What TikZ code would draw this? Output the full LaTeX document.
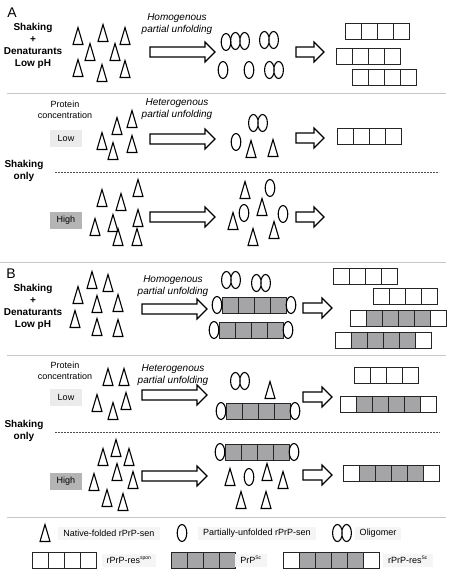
\documentclass[tikz,border=0pt]{standalone}
\usepackage{fontspec}
\setmainfont{Liberation Sans}
\usepackage{tikz}

\definecolor{fibgrey}{HTML}{A5A5A8}
\definecolor{rulegrey}{HTML}{C8C8C8}
\definecolor{lowgrey}{HTML}{EBEBEB}
\definecolor{highgrey}{HTML}{B4B4B4}
\definecolor{keygrey}{HTML}{F5F5F5}

\tikzset{
    outline/.style={draw=black, line width=1.1pt},
    cell/.style={draw=black!85, line width=0.9pt},
    sep/.style={draw=rulegrey, line width=0.8pt},
    dotsep/.style={draw=black!70, line width=0.7pt, dash pattern=on 1.6pt off 1.4pt},
    panel/.style={font=\fontsize{14}{14}\selectfont},
    cond/.style={font=\bfseries, align=center, inner sep=0pt},
    plain/.style={align=center, inner sep=0pt},
    proc/.style={font=\itshape, align=center, inner sep=0pt},
    conc/.style={minimum width=32pt, minimum height=17pt, inner sep=0pt},
    key/.style={fill=keygrey, minimum height=13pt, inner xsep=5pt, inner ysep=0pt},
    tri/.pic={\draw[outline] (-5,8.5) -- (0,-8.5) -- (5,8.5) -- cycle;},
    oval/.pic={\draw[outline] (0,0) ellipse [x radius=4.8, y radius=8.5];},
    dimer/.pic={\draw[outline] (-4.6,0) ellipse [x radius=4.8, y radius=8.5]
                               (4.6,0) ellipse [x radius=4.8, y radius=8.5];}
}

% row of 16x16 cells, top left corner at (#1,#2)
\newcommand{\fibril}[3]{%
    \foreach \f [count=\i from 0] in {#3}
        \draw[cell, fill=\f] (#1+16*\i,#2) rectangle ++(16,16);}
% grey fibril with an unfolded monomer on each end
\newcommand{\capfibril}[2]{%
    \fibril{#1}{#2}{fibgrey,fibgrey,fibgrey,fibgrey}
    \pic at (#1-5,#2+8) {oval};
    \pic at (#1+69,#2+8) {oval};}
% hollow block arrow from x=#1 to x=#2 at height #3
\newcommand{\blockarrow}[3]{%
    \draw[outline] (#1,#3-5) -- (#2-10,#3-5) -- (#2-10,#3-10) -- (#2,#3)
        -- (#2-10,#3+10) -- (#2-10,#3+5) -- (#1,#3+5) -- cycle;}

\begin{document}
\begin{tikzpicture}[x=1pt, y=-1pt, font=\fontsize{9}{11}\selectfont]

            \useasboundingbox (0,0) rectangle (452,576);

            % separators
            \draw[sep] (7,93) -- (446,93);
            \draw[sep] (0,262) -- (446,262);
            \draw[sep] (7,355) -- (446,355);
            \draw[sep] (7,517) -- (446,517);
            \draw[dotsep] (55,172) -- (439,172);
            \draw[dotsep] (55,432) -- (440,432);

            % ---------- panel A ----------
            \node[panel] (lblA) at (12,13) {A};
            \node[cond] (condA) at (33,45.5) {Shaking\\+\\Denaturants\\Low pH};
            \node[cond] (shakeA) at (24,171) {Shaking\\only};
            \node[plain] (protA) at (65,110) {Protein\\concentration};
            \node[conc, fill=lowgrey] (lowA) at (66,138) {Low};
            \node[conc, fill=highgrey] (highA) at (66,220) {High};
            \node[proc] (homA) at (177,24) {Homogenous\\partial unfolding};
            \node[proc] (hetA) at (177,109) {Heterogenous\\partial unfolding};

            \foreach \x/\y in {78/36, 103/33, 125/36, 90/52, 115/52, 78/68, 102/73, 125/69,
                               117/126, 132/119, 102/141, 132/144, 113/151,
                               138/188, 102/198, 121/202, 95/227, 113/223, 138/218, 118/237, 137/237,
                               251/149, 273/148,
                               245/190, 262/207, 233/221, 253/237, 274/230}
                \pic at (\x,\y) {tri};
            \foreach \x/\y in {226/42, 223/70, 249/70, 236/142, 270/188, 244/213, 283/214}
                \pic at (\x,\y) {oval};
            \foreach \x/\y in {240/41, 269/40, 274/70, 258/123}
                \pic at (\x,\y) {dimer};

            \blockarrow{150}{215}{52}
            \blockarrow{150}{215}{139}
            \blockarrow{150}{215}{217}
            \blockarrow{296}{324}{52}
            \blockarrow{296}{324}{138}
            \blockarrow{296}{324}{217}

            \fibril{345}{23}{white,white,white,white}
            \fibril{336}{48}{white,white,white,white}
            \fibril{352}{69}{white,white,white,white}
            \fibril{337}{128}{white,white,white,white}

            % ---------- panel B ----------
            \node[panel] (lblB) at (11,274) {B};
            \node[cond] (condB) at (33,306.5) {Shaking\\+\\Denaturants\\Low pH};
            \node[cond] (shakeB) at (24,431) {Shaking\\only};
            \node[plain] (protB) at (65,371) {Protein\\concentration};
            \node[conc, fill=lowgrey] (lowB) at (66,397) {Low};
            \node[conc, fill=highgrey] (highB) at (66,481) {High};
            \node[proc] (homB) at (173,286) {Homogenous\\partial unfolding};
            \node[proc] (hetB) at (173,375) {Heterogenous\\partial unfolding};

            \foreach \x/\y in {92/280, 108/283, 78/295, 97/304, 118/303, 75/319, 97/327, 118/328,
                               108/377, 124/377, 97/403, 113/411, 126/401,
                               103/457, 116/448, 129/457, 117/472, 133/480, 94/482, 107/498, 123/502,
                               270/390,
                               230/477, 267/472, 283/480, 241/500, 266/500}
                \pic at (\x,\y) {tri};
            \pic at (249,477) {oval};
            \foreach \x/\y in {231/280, 261/283, 240/381}
                \pic at (\x,\y) {dimer};

            \capfibril{222}{297}
            \capfibril{219}{322}
            \capfibril{226}{403}
            \capfibril{225}{444}

            \blockarrow{142}{207}{309}
            \blockarrow{142}{207}{395}
            \blockarrow{142}{207}{476}
            \blockarrow{303}{332}{308}
            \blockarrow{303}{332}{397}
            \blockarrow{303}{332}{475}

            \fibril{333}{268}{white,white,white,white}
            \fibril{373}{288}{white,white,white,white}
            \fibril{350}{310}{white,fibgrey,fibgrey,fibgrey,fibgrey,white}
            \fibril{335}{332}{white,fibgrey,fibgrey,fibgrey,fibgrey,white}
            \fibril{354}{367}{white,white,white,white}
            \fibril{340}{396}{white,fibgrey,fibgrey,fibgrey,fibgrey,white}
            \fibril{343}{465}{white,fibgrey,fibgrey,fibgrey,fibgrey,white}

            % ---------- key ----------
            \pic at (45,533) {tri};
            \node[key] (kNat) at (109,533) {Native-folded rPrP-sen};
            \pic at (182,533) {oval};
            \node[key] (kPart) at (257,533) {Partially-unfolded rPrP-sen};
            \pic at (342,533) {dimer};
            \node[key] (kOlig) at (378,533) {Oligomer};

            \fibril{32}{552}{white,white,white,white}
            \node[key] (kSpon) at (129,560) {rPrP-res\textsuperscript{\tiny spon}};
            \fibril{171}{552}{fibgrey,fibgrey,fibgrey,fibgrey}
            \node[key] (kSc) at (251,560) {PrP\textsuperscript{\tiny Sc}};
            \fibril{283}{552}{white,fibgrey,fibgrey,fibgrey,fibgrey,white}
            \node[key] (kRes) at (408,560) {rPrP-res\textsuperscript{\tiny Sc}};

        \end{tikzpicture}
\end{document}
